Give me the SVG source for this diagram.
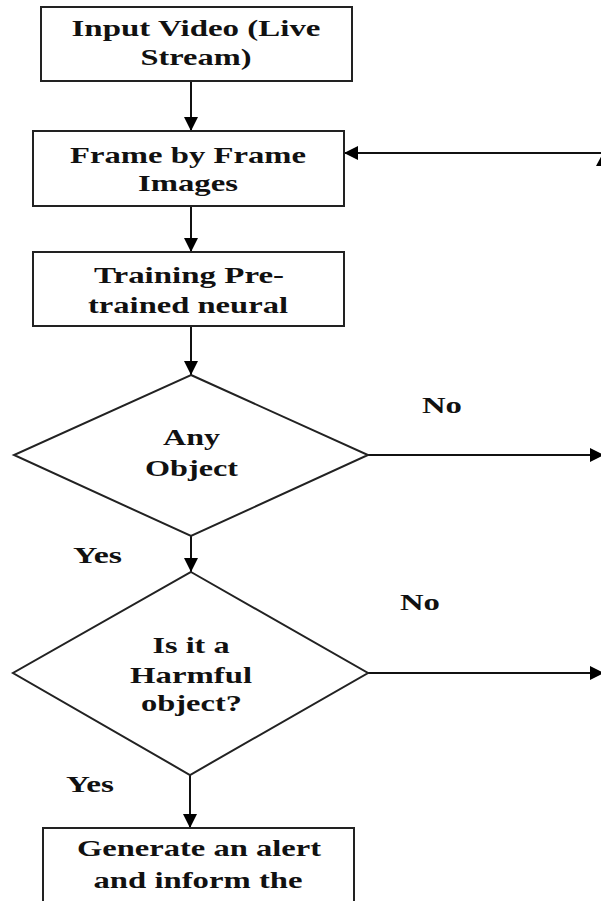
<svg xmlns="http://www.w3.org/2000/svg" width="601" height="901" viewBox="0 0 601 901">
<defs>
<marker id="ah" markerUnits="userSpaceOnUse" markerWidth="15" markerHeight="15" refX="14" refY="7" orient="auto">
<path d="M0,0 L14,7 L0,14 z" fill="#000"/>
</marker>
<style>
.box{fill:#fff;stroke:#222;stroke-width:2}
.dia{fill:#fff;stroke:#222;stroke-width:2}
.ln{fill:none;stroke:#111;stroke-width:2;marker-end:url(#ah)}
text{font-family:"Liberation Serif","Times New Roman",serif;font-weight:bold;font-size:23px;fill:#111;text-anchor:middle}
</style>
</defs>
<rect width="601" height="901" fill="#fff"/>
<g id="connectors">
<path class="ln" d="M191,81 V131"/>
<path class="ln" d="M191,206 V252"/>
<path class="ln" d="M191,326 V375"/>
<path class="ln" d="M191,536 V572"/>
<path class="ln" d="M190,775 V828"/>
<path class="ln" d="M601,153 H344"/>
<path class="ln" d="M368,455 H604"/>
<path class="ln" d="M368,673 H604"/>
<polygon points="596,166 603,153 610,166" fill="#000"/>
<text x="442" y="413" textLength="40" lengthAdjust="spacingAndGlyphs">No</text>
<text x="97.5" y="563" textLength="49" lengthAdjust="spacingAndGlyphs">Yes</text>
<text x="420" y="610" textLength="40" lengthAdjust="spacingAndGlyphs">No</text>
<text x="90" y="792" textLength="48" lengthAdjust="spacingAndGlyphs">Yes</text>
</g>
<g id="input">
<rect class="box" x="41" y="7" width="311" height="74"/>
<text x="196" y="36" textLength="249" lengthAdjust="spacingAndGlyphs">Input Video (Live</text>
<text x="196" y="65" textLength="111" lengthAdjust="spacingAndGlyphs">Stream)</text>
</g>
<g id="frames">
<rect class="box" x="33" y="131" width="311" height="75"/>
<text x="188" y="163" textLength="236" lengthAdjust="spacingAndGlyphs">Frame by Frame</text>
<text x="188" y="191" textLength="100" lengthAdjust="spacingAndGlyphs">Images</text>
</g>
<g id="training">
<rect class="box" x="33" y="252" width="311" height="74"/>
<text x="189" y="283" textLength="190" lengthAdjust="spacingAndGlyphs">Training Pre-</text>
<text x="188" y="313" textLength="200" lengthAdjust="spacingAndGlyphs">trained neural</text>
</g>
<g id="anyobject">
<polygon class="dia" points="191,375 368,455 191,536 14,455"/>
<text x="191.5" y="445" textLength="57" lengthAdjust="spacingAndGlyphs">Any</text>
<text x="191.5" y="476" textLength="93" lengthAdjust="spacingAndGlyphs">Object</text>
</g>
<g id="harmful">
<polygon class="dia" points="191,572 368,673 190,775 13,673"/>
<text x="191" y="653" textLength="77" lengthAdjust="spacingAndGlyphs">Is it a</text>
<text x="191" y="683" textLength="122" lengthAdjust="spacingAndGlyphs">Harmful</text>
<text x="191.5" y="711" textLength="101" lengthAdjust="spacingAndGlyphs">object?</text>
</g>
<g id="alert">
<rect class="box" x="43" y="828" width="311" height="90"/>
<text x="199" y="856" textLength="244" lengthAdjust="spacingAndGlyphs">Generate an alert</text>
<text x="198" y="888" textLength="209" lengthAdjust="spacingAndGlyphs">and inform the</text>
</g>
</svg>
